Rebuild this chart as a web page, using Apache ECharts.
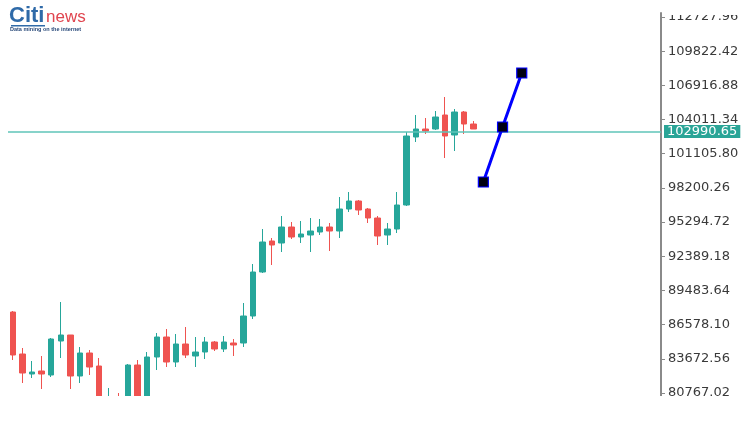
<!DOCTYPE html>
<html><head><meta charset="utf-8">
<script src="https://cdn.jsdelivr.net/npm/echarts@6/dist/echarts.min.js"></script>
<style>html,body{margin:0;padding:0;background:#fff}#c{width:754px;height:442px}</style>
</head><body><div id="c"></div>
<script>
const categories = [1,2,3,4,5,6,7,8,9,10,11,12,13,14,15,16,17,18,19,20,21,22,23,24,25,26,27,28,29,30,31,32,33,34,35,36,37,38,39,40,41,42,43,44,45,46,47,48,49,50,51,52,53,54,55,56,57,58,59,60,61,62,63,64,65,66,67,68].map(String);
const opens  = [87652,84082,82382,82637,82297,85187,85697,82212,84167,83062,78897,80172,79322,83147,79747,83827,85527,83402,84932,83912,84252,85102,84507,85017,85017,87312,91052,93687,93517,94877,94027,94197,94452,94877,94537,96407,97087,96407,95642,94197,94707,96747,102527,103207,103207,104397,102697,104652,103632];
const closes = [83997,82467,82552,82382,85357,85697,82212,84167,82977,79747,80172,79152,83147,79747,83827,85527,83402,84932,83997,84252,85102,84507,85102,84847,87312,91052,93602,93347,94877,94027,94282,94537,94877,94537,96407,97087,96322,95642,94112,94707,96747,102612,103207,103037,104227,102612,104652,103632,103207];
const lows   = [83572,81617,82042,81107,82127,83742,81107,81617,82297,78897,78472,78472,78897,79322,79322,82722,82977,82977,83742,82977,83657,84337,84252,83912,84677,87057,90967,91647,92752,93857,93517,92752,94197,92837,93942,96152,95897,95217,93347,93347,94367,96662,102102,102782,103122,100742,101337,102782,103207];
const highs  = [87737,84592,83487,83912,85442,88502,85697,84677,84422,83742,81192,80767,83232,83572,84252,85867,86207,85782,86377,85527,85527,85187,85612,85357,88417,91732,94707,93942,95812,95302,95387,95642,95557,95217,97427,97852,97172,96492,95812,95217,97852,102952,104397,104142,104737,105927,104907,104737,103887];
const signalX = [49, 51, 53];
const signalY = [98702, 103377, 107967];
const priceLine = 102990.65;
const yTicks = [80767.02, 83672.56, 86578.10, 89483.64, 92389.18, 95294.72, 98200.26, 101105.80, 104011.34, 106916.88, 109822.42, 112727.96];

const candleData = opens.map((o, i) => [o, closes[i], lows[i], highs[i]]);
const signalData = signalX.map((x, i) => [x, signalY[i]]);

const chart = echarts.init(document.getElementById('c'), null, {renderer: 'canvas'});
const FONT = 'DejaVu Sans';
chart.setOption({
  animation: false,
  backgroundColor: '#ffffff',
  grid: {left: 8, right: 93, top: 13, bottom: 46, containLabel: false},
  xAxis: {type: 'category', data: categories, boundaryGap: true, show: false},
  yAxis: {
    type: 'value', position: 'right', min: 80512, max: 113067, scale: true,
    axisLine: {show: true, lineStyle: {color: '#8a8a8a', width: 2}},
    axisTick: {show: true, inside: false, length: 4, customValues: yTicks, lineStyle: {color: '#8a8a8a', width: 1}},
    axisLabel: {show: true, customValues: yTicks, margin: 7, color: '#3a3a3a', fontFamily: FONT, fontSize: 13,
      formatter: v => Number(v).toFixed(2)},
    splitLine: {show: false}
  },
  series: [
    {
      type: 'candlestick', data: candleData, barWidth: 6, clip: true,
      itemStyle: {color: '#26a69a', color0: '#ef5350', borderColor: '#26a69a', borderColor0: '#ef5350', borderWidth: 1},
      markLine: {
        silent: true, symbol: ['none', 'none'], animation: false,
        lineStyle: {color: '#5fc4b8', width: 1.5, type: 'solid'},
        label: {show: true, position: 'end', distance: 3, formatter: () => priceLine.toFixed(2),
          color: '#ffffff', backgroundColor: '#2aa597', padding: [1, 3, 0, 3], fontFamily: FONT, fontSize: 13, lineHeight: 12},
        data: [{yAxis: priceLine}]
      }
    },
    {
      type: 'line', data: signalData, z: 5,
      showSymbol: true, showAllSymbol: true,
      lineStyle: {color: '#0000ff', width: 3},
      symbol: 'rect', symbolSize: 10,
      itemStyle: {color: '#000011', borderColor: '#0000ff', borderWidth: 1.2}
    }
  ],
  graphic: [
    {type: 'rect', z: 100, shape: {x: 663, y: 0, width: 91, height: 15}, style: {fill: '#ffffff'}},
    {type: 'rect', z: 100, shape: {x: 0, y: 396, width: 754, height: 46}, style: {fill: '#ffffff'}},
    {type: 'text', z: 101, left: 9, top: 5, style: {text: 'Citi', fill: '#2f6aa8', font: 'bold 22px "Liberation Sans"'}},
    {type: 'rect', z: 101, shape: {x: 11, y: 25, width: 34, height: 1.5}, style: {fill: '#2f6aa8'}},
    {type: 'text', z: 101, left: 46, top: 9, style: {text: 'news', fill: '#e0454f', font: '17px "Liberation Sans"'}},
    {type: 'text', z: 101, left: 10, top: 26, style: {text: 'Data mining on the internet', fill: '#2a4a7a', font: 'bold 5.5px "Liberation Sans"'}}
  ]
});
</script>
</body></html>
